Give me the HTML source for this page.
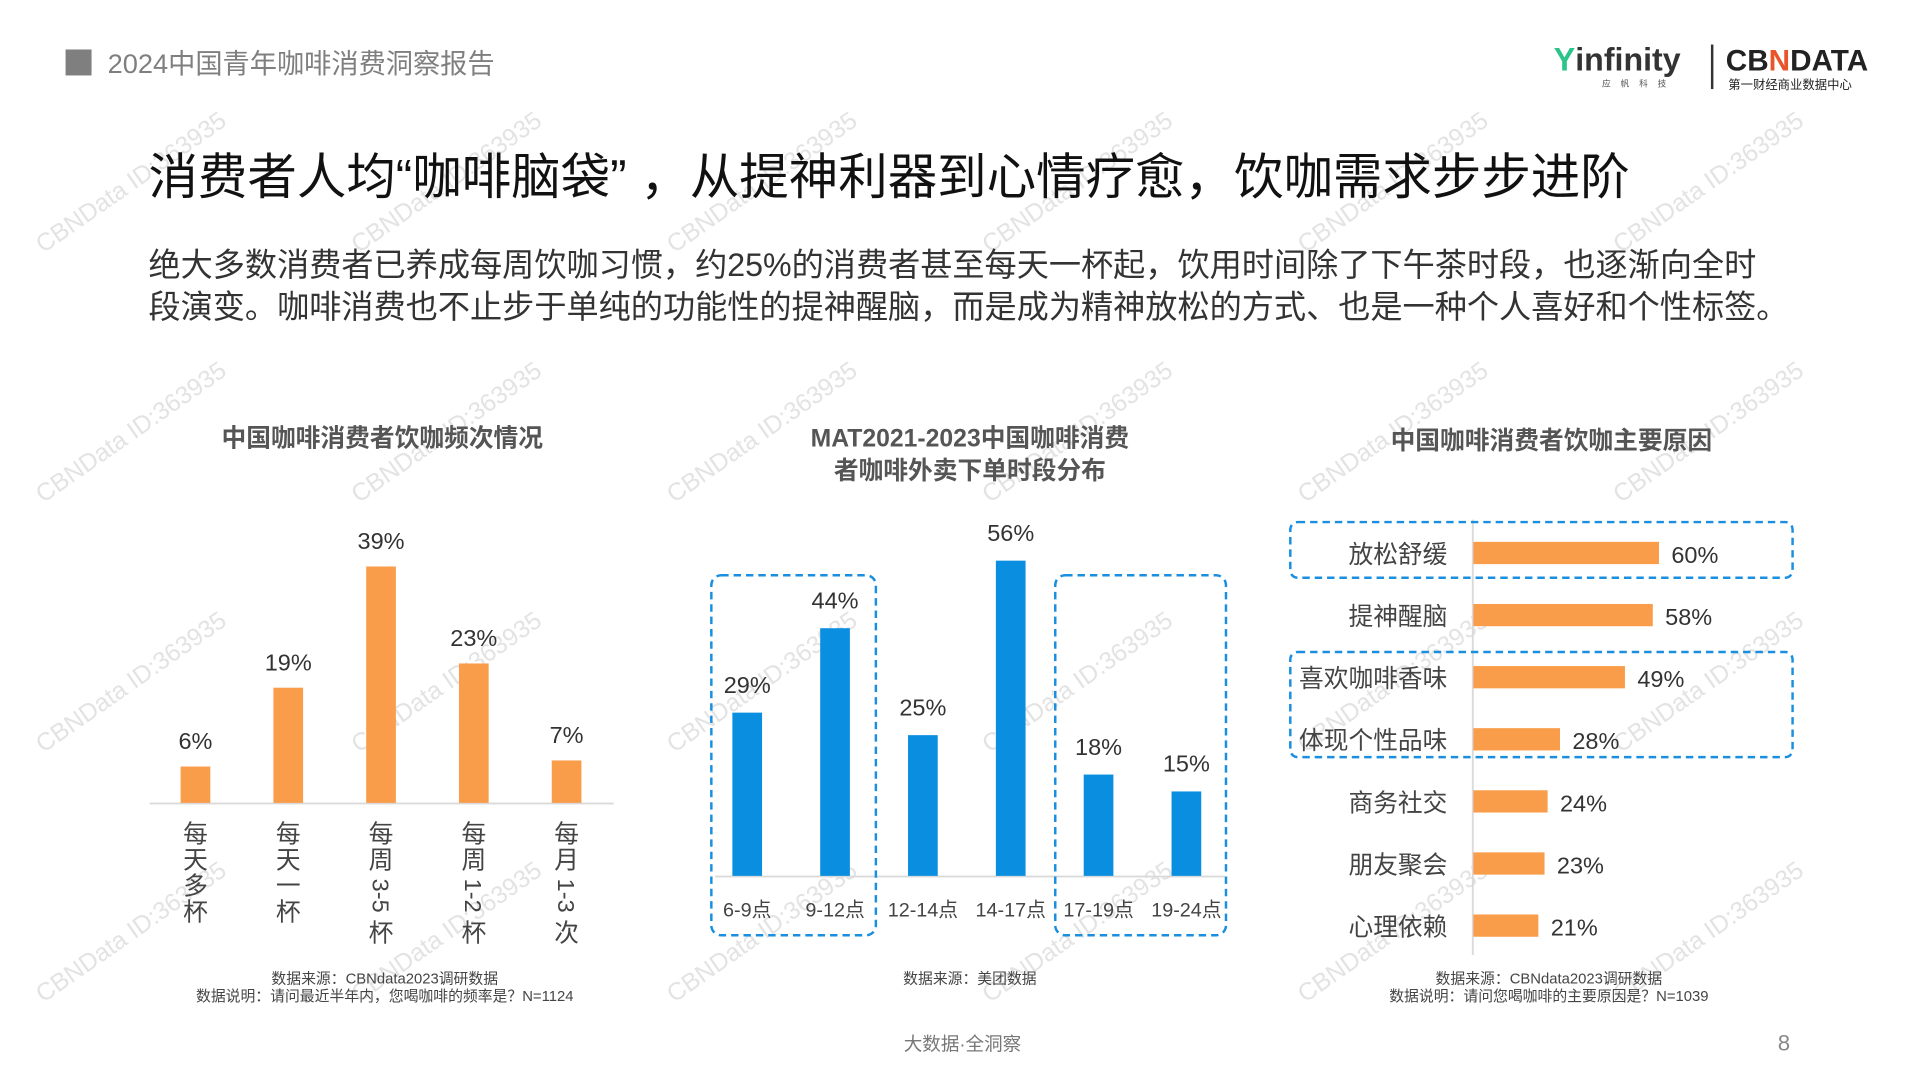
<!DOCTYPE html>
<html><head><meta charset="utf-8">
<style>
html,body{margin:0;padding:0;background:#fff;width:1920px;height:1080px;overflow:hidden}
#wrap{width:1552px;height:873px;transform:scale(1.23711);transform-origin:0 0;position:relative}
svg text{font-family:"Liberation Sans","Noto Sans CJK SC",sans-serif}
</style></head><body>
<div id="wrap">
<svg id="s" width="1552" height="873" viewBox="0 0 1552 873">
<g id="wm"></g>
<rect x="53" y="40" width="21" height="21" fill="#7f7f7f"/>
<text x="87" y="59" font-size="22" fill="#7f7f7f">2024中国青年咖啡消费洞察报告</text>
<g>
<text x="1256" y="57" font-size="26" font-weight="bold" fill="#333">
<tspan fill="#2bc48a">Y</tspan>infinity</text>
<text x="1295" y="70" font-size="7" fill="#555" letter-spacing="8">应帆科技</text>
</g>
<rect x="1383" y="36" width="2" height="36" fill="#333"/>
<g>
<text x="1395" y="57" font-size="24" font-weight="bold" fill="#222">CB<tspan fill="#e8552b">N</tspan>DATA</text>
<text x="1397" y="72" font-size="10" fill="#222">第一财经商业数据中心</text>
</g>
<text x="120" y="157" font-size="40" fill="#111">消费者人均“咖啡脑袋” ，从提神利器到心情疗愈，饮咖需求步步进阶</text>
<text x="120" y="223" font-size="26" fill="#333">绝大多数消费者已养成每周饮咖习惯，约25%的消费者甚至每天一杯起，饮用时间除了下午茶时段，也逐渐向全时</text>
<text x="120" y="257" font-size="26" fill="#333">段演变。咖啡消费也不止步于单纯的功能性的提神醒脑，而是成为精神放松的方式、也是一种个人喜好和个性标签。</text>

<text x="309" y="361" font-size="20" font-weight="bold" fill="#555" text-anchor="middle">中国咖啡消费者饮咖频次情况</text>
<text x="784" y="361" font-size="20" font-weight="bold" fill="#555" text-anchor="middle">MAT2021-2023中国咖啡消费</text>
<text x="784" y="387" font-size="20" font-weight="bold" fill="#555" text-anchor="middle">者咖啡外卖下单时段分布</text>
<text x="1254" y="363" font-size="20" font-weight="bold" fill="#555" text-anchor="middle">中国咖啡消费者饮咖主要原因</text>

<g id="c1"></g>
<g id="c2"></g>
<g id="c3"></g>

<text x="311" y="795" font-size="12" fill="#444" text-anchor="middle">数据来源：CBNdata2023调研数据</text>
<text x="311" y="809" font-size="12" fill="#444" text-anchor="middle">数据说明：请问最近半年内，您喝咖啡的频率是？N=1124</text>
<text x="784" y="795" font-size="12" fill="#444" text-anchor="middle">数据来源：美团数据</text>
<text x="1252" y="795" font-size="12" fill="#444" text-anchor="middle">数据来源：CBNdata2023调研数据</text>
<text x="1252" y="809" font-size="12" fill="#444" text-anchor="middle">数据说明：请问您喝咖啡的主要原因是？N=1039</text>
<text x="778" y="849" font-size="15" fill="#777" text-anchor="middle">大数据·全洞察</text>
<text x="1442" y="849" font-size="18" fill="#888" text-anchor="middle">8</text>
</svg>
</div>
<script>
const NS='http://www.w3.org/2000/svg';
function mk(p,t,a,txt){const e=document.createElementNS(NS,t);for(const k in a)e.setAttribute(k,a[k]);if(txt!==undefined)e.textContent=txt;p.appendChild(e);return e;}

// chart 1 data
const freqCats=['每天多杯','每天一杯','每周3-5杯','每周1-2杯','每月1-3次'];
const freqVals=[6,19,39,23,7];
// chart 2 data
const timeCats=['6-9点','9-12点','12-14点','14-17点','17-19点','19-24点'];
const timeVals=[29,44,25,56,18,15];
// chart 3 data
const reasonCats=['放松舒缓','提神醒脑','喜欢咖啡香味','体现个性品味','商务社交','朋友聚会','心理依赖'];
const reasonVals=[60,58,49,28,24,23,21];

// watermarks
const wm=document.getElementById('wm');
for(let r=0;r<4;r++)for(let c=0;c<6;c++){
 const x=35+c*255,y=205+r*202;
 const t=mk(wm,'text',{x:x,y:y,'font-size':20,fill:'#e3e3e3',transform:`rotate(-35 ${x} ${y})`},'CBNData ID:363935');
 
 
}

// chart 1
const c1=document.getElementById('c1');
const y1=v=>649-v*4.9, x1=i=>158+i*75;
const ax1=mk(c1,'line',{x1:121,x2:496,y1:649.5,y2:649.5,stroke:'#d9d9d9','stroke-width':1.5});

freqVals.forEach((v,i)=>{
 const b=mk(c1,'rect',{x:x1(i)-12,y:y1(v),width:24,height:649-y1(v),fill:'#f99d4a'});
 
 const l=mk(c1,'text',{x:x1(i),y:y1(v)-14,'font-size':19,fill:'#333','text-anchor':'middle'},v+'%');
 
 const g=mk(c1,'g',{});
 
 const parts=freqCats[i].match(/[0-9\-]+|[^0-9\-]/g);
 let y=663;
 parts.forEach(p=>{
  if(/[0-9]/.test(p)){
   const len=p.length*10+4;
   const cy=y+len/2+2;
   mk(g,'text',{x:x1(i),y:cy+7,'font-size':19,fill:'#444','text-anchor':'middle',transform:`rotate(90 ${x1(i)} ${cy})`},p);
   y+=len+4;
  } else {
   mk(g,'text',{x:x1(i),y:y+18,'font-size':20,fill:'#444','text-anchor':'middle'},p);
   y+=21;
  }
 });
});

// chart 2
const c2=document.getElementById('c2');
const y2=v=>708-v*4.55, x2=i=>604+i*71;
const ax2=mk(c2,'line',{x1:578,x2:990,y1:708.5,y2:708.5,stroke:'#d9d9d9','stroke-width':1.5});

[[575,465,133,291],[853,465,138,291]].forEach(d=>{
 const r=mk(c2,'rect',{x:d[0],y:d[1],width:d[2],height:d[3],rx:8,fill:'none',stroke:'#1a8fe0','stroke-width':2,'stroke-dasharray':'6 4'});
 
});
timeVals.forEach((v,i)=>{
 const b=mk(c2,'rect',{x:x2(i)-12,y:y2(v),width:24,height:708-y2(v),fill:'#0a8ee0'});
 
 const l=mk(c2,'text',{x:x2(i),y:y2(v)-16,'font-size':19,fill:'#333','text-anchor':'middle'},v+'%');
 
 const c=mk(c2,'text',{x:x2(i),y:741,'font-size':16,fill:'#444','text-anchor':'middle'},timeCats[i]);
 
});

// chart 3
const c3=document.getElementById('c3');
const w3=v=>v*2.5, y3=i=>447+i*50.2;
const ax3=mk(c3,'line',{x1:1190.5,x2:1190.5,y1:420,y2:772,stroke:'#d9d9d9','stroke-width':1.5});

[[1043,422,406,45],[1043,527,406,85]].forEach(d=>{
 const r=mk(c3,'rect',{x:d[0],y:d[1],width:d[2],height:d[3],rx:6,fill:'none',stroke:'#1a8fe0','stroke-width':2,'stroke-dasharray':'6 4'});
 
});
reasonVals.forEach((v,i)=>{
 const b=mk(c3,'rect',{x:1191,y:y3(i)-9,width:w3(v),height:18,fill:'#f99d4a'});
 
 const l=mk(c3,'text',{x:1191+w3(v)+10,y:y3(i)+8,'font-size':19,fill:'#333'},v+'%');
 
 const c=mk(c3,'text',{x:1170,y:y3(i)+8,'font-size':20,fill:'#444','text-anchor':'end'},reasonCats[i]);
 
});
</script>
</body></html>
